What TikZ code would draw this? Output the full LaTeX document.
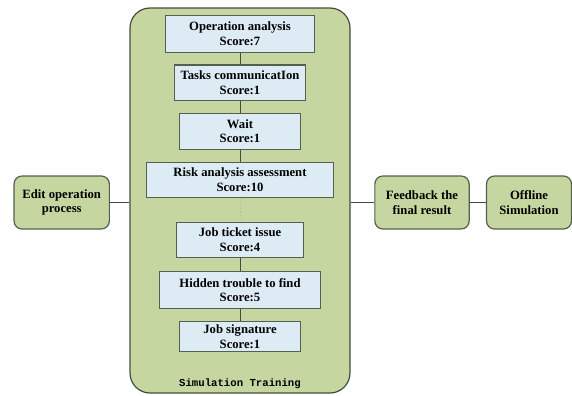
\documentclass[tikz,border=0pt]{standalone}
\usepackage{fontspec}
\setmainfont{Liberation Serif}
\setmonofont{Liberation Mono}
\definecolor{simgreen}{RGB}{198,214,160}
\definecolor{stepblue}{RGB}{220,235,244}
\definecolor{edgegray}{RGB}{85,95,80}
\tikzset{every picture/.style={line width=0.75pt}}
\tikzset{
  stepbox/.style={draw=edgegray, fill=stepblue, line width=0.9pt, align=center, inner sep=0pt,
    font=\fontsize{9.5}{11}\selectfont\bfseries},
  sidebox/.style={draw=edgegray, fill=simgreen, rounded corners=6pt, line width=0.9pt, align=center,
    inner sep=0pt, minimum height=53*0.75pt, font=\fontsize{9.5}{11}\selectfont\bfseries},
  link/.style={draw=edgegray!80!black, line width=0.6pt}
}
\begin{document}
\begin{tikzpicture}[x=0.75pt,y=0.75pt,yscale=-1,xscale=1]
	\useasboundingbox (0,0) rectangle (572,396);

	%Shape: Rounded Rect [id:simtraining]
	\node [draw=edgegray!80!black, fill=simgreen, rounded corners=15pt, line width=0.9pt, minimum width=220*0.75pt, minimum height=385*0.75pt] (sim) at (240,200.5) {};
	% Text Node
	\node [font=\fontsize{8}{10}\selectfont\ttfamily\bfseries] (simlabel) at (240,384) {Simulation Training};

	% Steps
	\node [stepbox, minimum width=148.6*0.75pt, minimum height=36.6*0.75pt] (opana) at (240,34) {Operation analysis\\Score:7};
	\node [stepbox, minimum width=131.4*0.75pt, minimum height=35.7*0.75pt] (taskcom) at (240,82.8) {Tasks communicatIon\\Score:1};
	\node [stepbox, minimum width=121*0.75pt, minimum height=36*0.75pt] (wait) at (240,131.3) {Wait\\Score:1};
	\node [stepbox, minimum width=186.6*0.75pt, minimum height=35*0.75pt] (risk) at (240,179.8) {Risk analysis assessment\\Score:10};
	\node [stepbox, minimum width=126.6*0.75pt, minimum height=35.4*0.75pt] (ticket) at (240,240) {Job ticket issue\\Score:4};
	\node [stepbox, minimum width=161.7*0.75pt, minimum height=36.6*0.75pt] (hidden) at (240,290) {Hidden trouble to find\\Score:5};
	\node [stepbox, minimum width=120.7*0.75pt, minimum height=30*0.75pt] (signature) at (240,336.7) {Job signature\\Score:1};

	% Side boxes
	\node [sidebox, minimum width=95.3*0.75pt] (edit) at (61.7,202.5) {Edit operation\\process};
	\node [sidebox, minimum width=94.3*0.75pt] (feedback) at (422,202.5) {Feedback the\\final result};
	\node [sidebox, minimum width=85*0.75pt] (offline) at (529,202.5) {Offline\\Simulation};

	%Straight Lines
	\draw [link] (opana) -- (taskcom);
	\draw [link] (taskcom) -- (wait);
	\draw [link] (wait) -- (risk);
	\draw [gray!60, dotted, line width=0.6pt] (risk) -- (ticket);
	\draw [link] (ticket) -- (hidden);
	\draw [link] (hidden) -- (signature);
	\draw [link] (edit.east) -- (edit.east -| sim.west);
	\draw [link] (sim.east |- feedback.west) -- (feedback.west);
	\draw [link] (feedback) -- (offline);

\end{tikzpicture}
\end{document}
